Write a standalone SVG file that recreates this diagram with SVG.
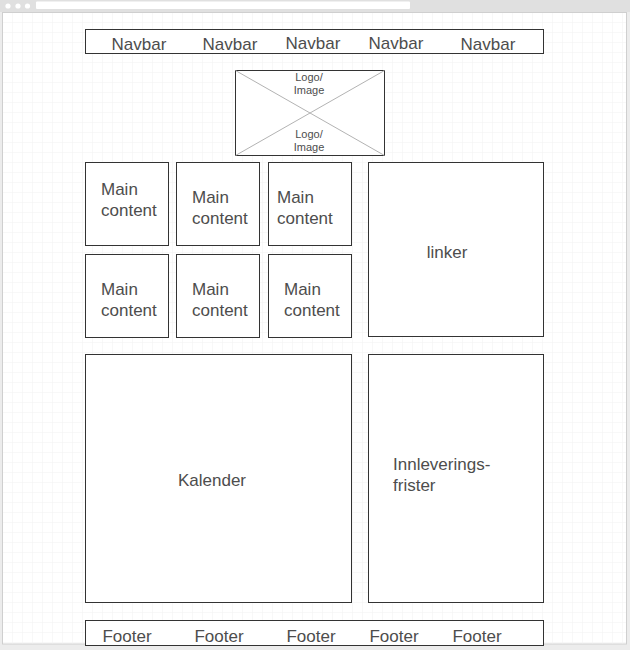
<svg xmlns="http://www.w3.org/2000/svg" width="630" height="650" viewBox="0 0 630 650">
<defs>
<pattern id="grid" width="10" height="10" patternUnits="userSpaceOnUse" x="2" y="12">
<path d="M10 0H0V10" fill="none" stroke="#f1f1f1" stroke-width="1"/>
</pattern>
<style>
.box{fill:#fff;stroke:#333;stroke-width:1}
.t{font-family:"Liberation Sans",Arial,sans-serif;font-size:17px;fill:#4d4d4d}
.s{font-family:"Liberation Sans",Arial,sans-serif;font-size:11px;fill:#4d4d4d}
.c{text-anchor:middle}
</style>
</defs>
<rect width="630" height="650" fill="#ececec"/>
<rect x="0" y="0" width="630" height="12" fill="#e0e0e0"/>
<circle cx="8" cy="6" r="2.6" fill="#fff"/>
<circle cx="18" cy="6" r="2.6" fill="#fff"/>
<circle cx="27.5" cy="6" r="2.6" fill="#fff"/>
<rect x="36" y="1.5" width="374" height="7.5" rx="1" fill="#fff"/>
<rect x="2.5" y="12.5" width="624" height="631.5" fill="#fff" stroke="#cfcfcf"/>
<rect x="3" y="13" width="623" height="630.5" fill="url(#grid)"/>
<g id="navbar">
<rect class="box" x="85.5" y="29.5" width="458" height="24"/>
<text class="t c" x="139" y="49.5">Navbar</text>
<text class="t c" x="230" y="49.5">Navbar</text>
<text class="t c" x="313" y="48.5">Navbar</text>
<text class="t c" x="396" y="48.5">Navbar</text>
<text class="t c" x="488" y="49.5">Navbar</text>
</g>
<g id="logo">
<rect class="box" x="235.5" y="70.5" width="149" height="85"/>
<path d="M235.5 70.5L384.5 155.5M384.5 70.5L235.5 155.5" stroke="#b3b3b3" fill="none"/>
<text class="s c" x="309" y="81">Logo/</text>
<text class="s c" x="309" y="94">Image</text>
<text class="s c" x="309" y="137.5">Logo/</text>
<text class="s c" x="309" y="150.5">Image</text>
</g>
<g id="main1">
<rect class="box" x="85.5" y="162.5" width="83" height="83"/>
<text class="t" x="101" y="195">Main</text>
<text class="t" x="101" y="216">content</text>
</g>
<g id="main2">
<rect class="box" x="176.5" y="162.5" width="83" height="83"/>
<text class="t" x="192" y="203">Main</text>
<text class="t" x="192" y="224">content</text>
</g>
<g id="main3">
<rect class="box" x="268.5" y="162.5" width="83" height="83"/>
<text class="t" x="277" y="203">Main</text>
<text class="t" x="277" y="224">content</text>
</g>
<g id="main4">
<rect class="box" x="85.5" y="254.5" width="83" height="83"/>
<text class="t" x="101" y="295">Main</text>
<text class="t" x="101" y="316">content</text>
</g>
<g id="main5">
<rect class="box" x="176.5" y="254.5" width="83" height="83"/>
<text class="t" x="192" y="295">Main</text>
<text class="t" x="192" y="316">content</text>
</g>
<g id="main6">
<rect class="box" x="268.5" y="254.5" width="83" height="83"/>
<text class="t" x="284" y="295">Main</text>
<text class="t" x="284" y="316">content</text>
</g>
<g id="linker">
<rect class="box" x="368.5" y="162.5" width="175" height="174"/>
<text class="t c" x="447" y="258">linker</text>
</g>
<g id="kalender">
<rect class="box" x="85.5" y="354.5" width="266" height="248"/>
<text class="t c" x="212" y="486">Kalender</text>
</g>
<g id="frister">
<rect class="box" x="368.5" y="354.5" width="175" height="248"/>
<text class="t" x="393" y="470">Innleverings-</text>
<text class="t" x="393" y="491">frister</text>
</g>
<g id="footer">
<rect class="box" x="85.5" y="620.5" width="458" height="25"/>
<text class="t c" x="127" y="642">Footer</text>
<text class="t c" x="219" y="642">Footer</text>
<text class="t c" x="311" y="642">Footer</text>
<text class="t c" x="394" y="642">Footer</text>
<text class="t c" x="477" y="642">Footer</text>
</g>
<g id="connectors"/>
</svg>
